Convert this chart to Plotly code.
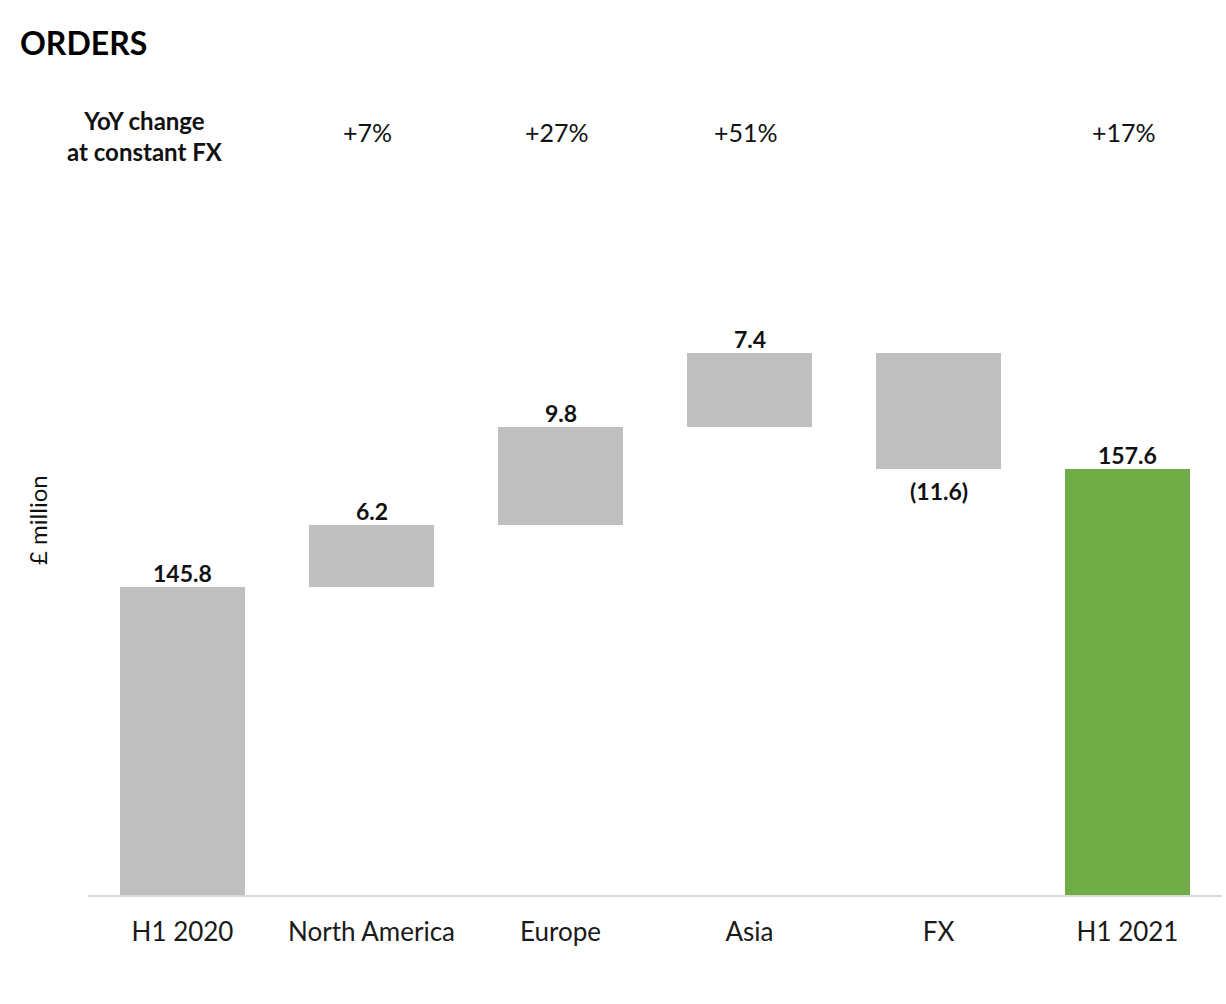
import plotly.graph_objects as go

# Orders bridge, £ million
categories = ["H1 2020", "North America", "Europe", "Asia", "FX", "H1 2021"]
opening = 145.8
changes = [6.2, 9.8, 7.4, -11.6]
closing = 157.6
yoy_labels = ["", "+7%", "+27%", "+51%", "", "+17%"]

GREY = "#bfbfbf"
GREEN = "#70ad47"
FONT = "Lato, 'Open Sans', sans-serif"
TEXT = "#111111"

# Build floating bar geometry from the running total
bases, heights, colors = [0], [opening], [GREY]
running = opening
for c in changes:
    if c >= 0:
        bases.append(running)
        heights.append(c)
    else:
        bases.append(running + c)
        heights.append(-c)
    colors.append(GREY)
    running += c
bases.append(0)
heights.append(closing)
colors.append(GREEN)

fig = go.Figure(
    go.Bar(
        x=categories,
        y=heights,
        base=bases,
        marker=dict(color=colors, line=dict(width=0)),
        width=0.66,
        hoverinfo="skip",
    )
)

# Value labels: above rising / total bars, below falling bars
values = [opening] + changes + [closing]
annotations = []
for cat, b, h, v in zip(categories, bases, heights, values):
    if v >= 0:
        annotations.append(dict(
            x=cat, y=b + h, xref="x", yref="y", text=f"<b>{v:.1f}</b>",
            showarrow=False, yanchor="bottom", yshift=-2,
            font=dict(family=FONT, size=23, color=TEXT),
        ))
    else:
        annotations.append(dict(
            x=cat, y=b, xref="x", yref="y", text=f"<b>({abs(v):.1f})</b>",
            showarrow=False, yanchor="top", yshift=-6,
            font=dict(family=FONT, size=23, color=TEXT),
        ))

# Year-on-year row above the chart
for cat, t in zip(categories, yoy_labels):
    if t:
        annotations.append(dict(
            x=cat, y=1.2717, xref="x", yref="paper", text=t,
            showarrow=False, yanchor="middle", xshift=-4,
            font=dict(family=FONT, size=25, color=TEXT),
        ))
annotations.append(dict(
    x=(145 - 88) / 1134, y=(895 - 136) / 600, xref="paper", yref="paper",
    text="<b>YoY change<br>at constant FX</b>", showarrow=False,
    xanchor="center", yanchor="middle", align="center",
    font=dict(family=FONT, size=24, color=TEXT),
))
annotations.append(dict(
    x=(37 - 88) / 1134, y=(895 - 520) / 600, xref="paper", yref="paper",
    text="£ million", textangle=-90, showarrow=False,
    xanchor="center", yanchor="middle",
    font=dict(family=FONT, size=24, color=TEXT),
))

fig.update_layout(
    width=1226,
    height=1004,
    margin=dict(l=88, r=4, t=295, b=109),
    paper_bgcolor="white",
    plot_bgcolor="white",
    showlegend=False,
    bargap=0,
    title=dict(
        text="<b>ORDERS</b>", x=20 / 1226, y=1 - 44 / 1004,
        xanchor="left", yanchor="middle",
        font=dict(family=FONT, size=32, color="#000000"),
    ),
    xaxis=dict(
        showline=True, linecolor="#d9d9d9", linewidth=2,
        showgrid=False, zeroline=False, ticks="",
        ticklabelstandoff=13,
        tickfont=dict(family=FONT, size=26, color="#1a1a1a"),
    ),
    yaxis=dict(
        range=[115, 175], visible=False, showgrid=False, zeroline=False,
    ),
    annotations=annotations,
)

fig.write_html("out.html")
